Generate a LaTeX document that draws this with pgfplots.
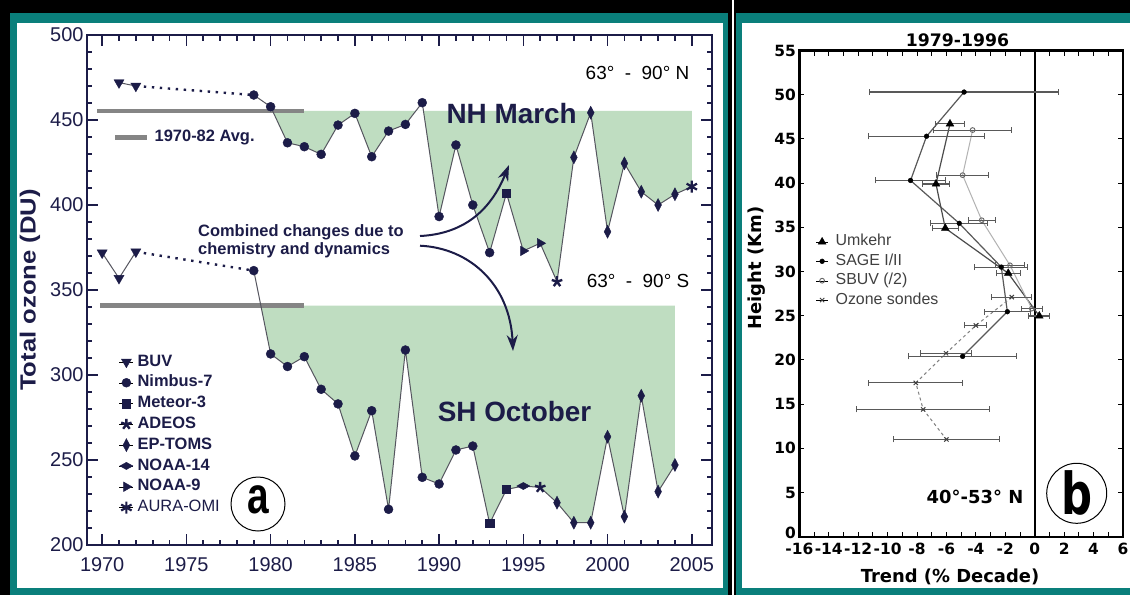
\documentclass[border=0pt]{standalone}
\usepackage{fontspec}
\setmainfont{Liberation Sans}
\newfontfamily\dejavu{DejaVu Sans}
\usepackage{graphicx}
\usepackage{pgfplots}
\pgfplotsset{compat=1.18}
\usetikzlibrary{arrows.meta,plotmarks}
\definecolor{navy}{HTML}{1C1C48}
\definecolor{teal0}{HTML}{0A7F7B}
\definecolor{fillg}{HTML}{BFDDC1}
\definecolor{avgg}{HTML}{858585}
\definecolor{dline}{HTML}{55555F}
\begin{document}
\begin{tikzpicture}
\useasboundingbox (0,0) rectangle (1130bp,-595bp);
\fill[black] (0,0) rectangle (1130bp,-595bp);
\fill[white] (731.7bp,0) rectangle (734bp,-595bp);
\fill[teal0] (10bp,-12.7bp) rectangle (728bp,-595bp);
\fill[white] (17bp,-22.7bp) rectangle (722.5bp,-588bp);
\fill[teal0] (736bp,-12.7bp) rectangle (1130bp,-595bp);
\fill[white] (742bp,-22.7bp) rectangle (1130bp,-588bp);

% ---------------- panel a ----------------
\begin{axis}[
  at={(87bp,-545bp)}, anchor=south west, scale only axis,
  width=625bp, height=510bp,
  xmin=1969.1, xmax=2006.2, ymin=200, ymax=500,
  xtick={1970,1975,...,2005}, ytick={200,250,...,500},
  minor x tick num=4, minor y tick num=4,
  tick align=inside, major tick length=11bp, minor tick length=5.5bp,
  axis line style={navy, line width=2bp},
  tick style={navy, line width=1.6bp},
  ticklabel style={font=\fontsize{20}{20}\selectfont, text=navy},
  xticklabel style={yshift=-9bp},
  /pgf/number format/assume math mode=true,
  /pgf/number format/1000 sep={},
  clip=false,
  legend style={at={(axis description cs:0.0512,0.3765)}, anchor=north west,
    draw=none, fill=none, inner sep=0pt, row sep=3.3bp, column sep=3bp,
    font=\fontsize{16.5}{16.5}\selectfont\bfseries, text=navy,
    nodes={inner sep=1bp, text height=12bp, text depth=3.5bp}},
  legend cell align=left,
  legend image code/.code={\path (0bp,0bp) -- (14bp,0bp); \draw[#1] plot coordinates {(7bp,0bp)};},
]
% shaded departures below the 1970-82 average
\addplot[fill=fillg, draw=none, forget plot] coordinates {(1980.12,455.3) (1981,436.6) (1982,434.3) (1983,429.8) (1984,447.0) (1985,453.9) (1986,428.4) (1987,443.5) (1988,447.4) (1988.62,455.3) (1989.07,455.3) (1990,393.2) (1991,435.3) (1992,400.0) (1993,372.0) (1994,406.9) (1995,373.0) (1996,377.5) (1997,354.9) (1998,428.0) (1999,454.3) (2000,384.3) (2001,424.5) (2002,407.8) (2003,400.0) (2004,406.3) (2005,410.8) (2005,455.3)} -- cycle;
\addplot[fill=fillg, draw=none, forget plot] coordinates {(1979.42,340.8) (1980,312.4) (1981,305.0) (1982,310.8) (1983,291.6) (1984,283.0) (1985,252.4) (1986,279.0) (1987,221.0) (1988,314.7) (1989,239.8) (1990,235.9) (1991,255.9) (1992,258.2) (1993,212.7) (1994,232.7) (1995,234.7) (1996,233.9) (1997,224.9) (1998,213.1) (1999,213.1) (2000,263.7) (2001,216.7) (2002,287.8) (2003,231.4) (2004,247.1) (2004,340.8)} -- cycle;
% averages
\addplot[avgg, line width=4.5bp, forget plot] coordinates {(1969.7,455.3) (1982,455.3)};
\addplot[avgg, line width=4.5bp, forget plot] coordinates {(1969.9,340.8) (1982,340.8)};
% connecting lines
\addplot[navy, line width=2.4bp, dash pattern=on 2.4bp off 5.6bp, forget plot] coordinates {(1972,470) (1979,464.7)};
\addplot[navy, line width=2.4bp, dash pattern=on 2.4bp off 5.6bp, forget plot] coordinates {(1972,372.5) (1979,361.4)};
\addplot[dline, line width=1bp, forget plot] coordinates {(1971,472) (1972,470)};
\addplot[dline, line width=1bp, forget plot] coordinates {(1970,371.9) (1971,356.9) (1972,372.5)};
\addplot[dline, line width=1bp, forget plot] coordinates {(1979,464.7) (1980,457.8) (1981,436.6) (1982,434.3) (1983,429.8) (1984,447.0) (1985,453.9) (1986,428.4) (1987,443.5) (1988,447.4) (1989,460.2) (1990,393.2) (1991,435.3) (1992,400.0) (1993,372.0) (1994,406.9) (1995,373.0) (1996,377.5) (1997,354.9) (1998,428.0) (1999,454.3) (2000,384.3) (2001,424.5) (2002,407.8) (2003,400.0) (2004,406.3) (2005,410.8)};
\addplot[dline, line width=1bp, forget plot] coordinates {(1979,361.4) (1980,312.4) (1981,305.0) (1982,310.8) (1983,291.6) (1984,283.0) (1985,252.4) (1986,279.0) (1987,221.0) (1988,314.7) (1989,239.8) (1990,235.9) (1991,255.9) (1992,258.2) (1993,212.7) (1994,232.7) (1995,234.7) (1996,233.9) (1997,224.9) (1998,213.1) (1999,213.1) (2000,263.7) (2001,216.7) (2002,287.8) (2003,231.4) (2004,247.1)};
% instruments
\addplot[only marks, mark=triangle*, mark size=5.8bp, mark options={rotate=180, fill=navy, draw=navy}] coordinates {(1971,472) (1972,470) (1970,371.9) (1971,356.9) (1972,372.5)};
\addlegendentry{BUV}
\addplot[only marks, mark=*, mark size=4.5bp, mark options={fill=navy, draw=navy}] coordinates {(1979,464.7) (1980,457.8) (1981,436.6) (1982,434.3) (1983,429.8) (1984,447.0) (1985,453.9) (1986,428.4) (1987,443.5) (1988,447.4) (1989,460.2) (1990,393.2) (1991,435.3) (1992,400.0) (1993,372.0) (1979,361.4) (1980,312.4) (1981,305.0) (1982,310.8) (1983,291.6) (1984,283.0) (1985,252.4) (1986,279.0) (1987,221.0) (1988,314.7) (1989,239.8) (1990,235.9) (1991,255.9) (1992,258.2)};
\addlegendentry{Nimbus-7}
\addplot[only marks, mark=square*, mark size=4.2bp, mark options={fill=navy, draw=navy}] coordinates {(1994,406.9) (1993,212.7) (1994,232.7)};
\addlegendentry{Meteor-3}
\addplot[only marks, mark=star, mark size=5.5bp, mark options={draw=navy, line width=2.4bp}] coordinates {(1997,354.9) (1996,233.9)};
\addlegendentry{ADEOS}
\addplot[only marks, mark=diamond*, mark size=6.5bp, mark options={xscale=0.7, fill=navy, draw=navy}] coordinates {(1998,428.0) (1999,454.3) (2000,384.3) (2001,424.5) (2002,407.8) (2003,400.0) (2004,406.3) (1997,224.9) (1998,213.1) (1999,213.1) (2000,263.7) (2001,216.7) (2002,287.8) (2003,231.4) (2004,247.1)};
\addlegendentry{EP-TOMS}
\addplot[only marks, mark=diamond*, mark size=6bp, mark options={xscale=1.45, yscale=0.6, fill=navy, draw=navy}] coordinates {(1995,234.7)};
\addlegendentry{NOAA-14}
\addplot[only marks, mark=triangle*, mark size=5.5bp, mark options={rotate=-90, fill=navy, draw=navy}] coordinates {(1995,373.0) (1996,377.5)};
\addlegendentry{NOAA-9}
\addplot[only marks, mark=asterisk, mark size=6bp, mark options={draw=navy, line width=2.2bp}] coordinates {(2005,410.8)};
\addlegendentry{\mdseries AURA-OMI}
\end{axis}

% legend for the average line
\begin{axis}[
  at={(87bp,-545bp)}, anchor=south west, scale only axis,
  width=625bp, height=510bp, xmin=0, xmax=1, ymin=0, ymax=1, hide axis,
  legend style={at={(axis description cs:0.0416,0.817)}, anchor=north west,
    draw=none, fill=none, inner sep=0pt, column sep=4bp,
    font=\fontsize{16.5}{16.5}\selectfont\bfseries, text=navy,
    nodes={inner sep=1bp, text height=12bp, text depth=3.5bp}},
  legend image code/.code={\draw[#1] (0bp,0bp) -- (32bp,0bp);},
]
\addlegendimage{avgg, line width=4.5bp}
\addlegendentry{1970-82 Avg.}
\end{axis}

\node[rotate=90, text=navy, font=\bfseries\fontsize{22}{22}\selectfont] at (30bp,-290bp) {\scalebox{1.17}[1]{Total ozone (DU)}};
\node[text=navy, font=\bfseries\fontsize{28}{28}\selectfont] at (511.7bp,-113.3bp) {NH March};
\node[text=navy, font=\bfseries\fontsize{28}{28}\selectfont] at (514.5bp,-411.7bp) {SH October};
\node[font=\fontsize{19}{19}\selectfont] at (637.5bp,-73bp) {63°\ \ -\ \ 90°\ N};
\node[font=\fontsize{19}{19}\selectfont] at (638bp,-281bp) {63°\ \ -\ \ 90°\ S};
\node[anchor=west, align=left, text=navy, font=\bfseries\fontsize{16.5}{18.5}\selectfont, inner sep=0pt] at (198bp,-241bp) {Combined changes due to\\chemistry and dynamics};
\draw[navy, line width=2bp, -{Stealth[length=16bp, width=11bp]}] (420bp,-236bp) .. controls (462bp,-234bp) and (490bp,-212bp) .. (509bp,-165bp);
\draw[navy, line width=2bp, -{Stealth[length=16bp, width=11bp]}] (420bp,-245.7bp) .. controls (470bp,-248bp) and (510bp,-285bp) .. (513bp,-351bp);
\draw[black, line width=1bp] (258bp,-504bp) circle (27bp);
\node[font=\bfseries\fontsize{52}{52}\selectfont] at (258bp,-500bp) {\scalebox{0.75}[1]{a}};

% ---------------- panel b ----------------
\begin{axis}[
  at={(799.3bp,-536.7bp)}, anchor=south west, scale only axis,
  width=323.7bp, height=486.2bp,
  xmin=-16, xmax=6, ymin=0, ymax=55,
  xtick={-16,-14,...,6}, xticklabels={-16,-14,-12,-10,-8,-6,-4,-2,0,2,4,6},
  ytick={0,5,...,55},
  yticklabels={\raisebox{8bp}{0},5,10,15,20,25,30,35,40,45,50,55},
  minor x tick num=1,
  tick align=inside, major tick length=5bp, minor tick length=5bp,
  axis line style={black, line width=2.4bp},
  tick style={black, line width=1bp},
  ticklabel style={font=\dejavu\bfseries\fontsize{15.5}{15.5}\selectfont},
  xticklabel style={yshift=-3bp},
  clip=false,
  legend style={at={(axis description cs:0.0507,0.6232)}, anchor=north west,
    draw=none, fill=none, inner sep=0pt, row sep=3.4bp, column sep=6.3bp,
    font=\fontsize{16}{16}\selectfont, text=black!75,
    nodes={inner sep=1bp, text height=11bp, text depth=3bp}},
  legend cell align=left,
  legend image code/.code={\path (0bp,0bp) -- (12bp,0bp); \draw[#1] plot coordinates {(6bp,0bp)};},
  error bars/x dir=both, error bars/x explicit,
  error bars/error mark=|,
  error bars/error bar style={line width=1.1bp, black!65},
  error bars/error mark options={line width=1bp, mark size=3bp, black!65},
]
\addplot[black, line width=1.6bp, forget plot] coordinates {(0,0) (0,55)};
% profile lines
\addplot[black!65, line width=1.2bp, forget plot] coordinates {(-4.8,50.3) (-7.35,45.3) (-8.44,40.3) (-5.13,35.45) (-2.27,30.5) (-1.86,25.45) (-4.9,20.4)};
\addplot[black!70, line width=1.2bp, forget plot] coordinates {(-5.76,46.7) (-6.71,39.9) (-6.08,34.9) (-1.8,29.8) (0.31,24.97)};
\addplot[black!30, line width=1bp, forget plot] coordinates {(-4.22,46.0) (-4.9,40.9) (-3.6,35.8) (-1.68,30.7) (-0.2,25.8)};
\addplot[black!50, line width=1bp, dash pattern=on 3bp off 3bp, forget plot] coordinates {(-1.56,27.1) (-4.0,23.9) (-6.03,20.75) (-8.08,17.4) (-7.58,14.4) (-6.0,11.0)};
% points with error bars
\addplot[only marks, mark=triangle*, mark size=4.5bp, mark options={fill=black, draw=black}] coordinates {(-5.76,46.7) +- (1.0,0) (-6.71,39.9) +- (0.9,0) (-6.08,34.9) +- (0.9,0) (-1.8,29.8) +- (0.8,0) (0.31,24.97) +- (0.7,0)};
\addlegendentry{Umkehr}
\addplot[only marks, mark=*, mark size=2.4bp, mark options={fill=black, draw=black}] coordinates {(-4.8,50.3) +- (6.4,0) (-7.35,45.3) +- (3.97,0) (-8.44,40.3) +- (2.35,0) (-5.13,35.45) +- (1.95,0) (-2.27,30.5) +- (1.8,0) (-1.86,25.45) +- (1.55,0) (-4.9,20.4) +- (3.65,0)};
\addlegendentry{SAGE I/II}
\addplot[only marks, mark=o, mark size=2.4bp, mark options={fill=white, draw=black!60, line width=0.9bp}] coordinates {(-4.22,46.0) +- (2.65,0) (-4.9,40.9) +- (1.75,0) (-3.6,35.8) +- (0.9,0) (-1.68,30.7) +- (1.0,0) (-0.2,25.8) +- (0.7,0)};
\addlegendentry{SBUV (/2)}
\addplot[only marks, mark=x, mark size=3bp, mark options={draw=black!75, line width=1bp}] coordinates {(-1.56,27.1) +- (1.35,0) (-4.0,23.9) +- (0.75,0) (-6.03,20.75) +- (1.7,0) (-8.08,17.4) +- (3.2,0) (-7.58,14.4) +- (4.5,0) (-6.0,11.0) +- (3.6,0)};
\addlegendentry{Ozone sondes}
\end{axis}

\node[font=\dejavu\bfseries\fontsize{17.3}{17.3}\selectfont] at (957.5bp,-40bp) {1979-1996};
\node[rotate=90, font=\dejavu\bfseries\fontsize{18}{18}\selectfont] at (757bp,-268bp) {Height (Km)};
\node[font=\dejavu\bfseries\fontsize{18}{18}\selectfont] at (950bp,-577bp) {Trend (\% Decade)};
\node[font=\dejavu\bfseries\fontsize{18}{18}\selectfont] at (975bp,-496.7bp) {40°-53° N};
\draw[black, line width=1bp] (1076.7bp,-493.3bp) circle (30bp);
\node[font=\dejavu\bfseries\fontsize{58}{58}\selectfont] at (1076.7bp,-493.3bp) {\scalebox{0.75}[1]{b}};
\end{tikzpicture}
\end{document}
